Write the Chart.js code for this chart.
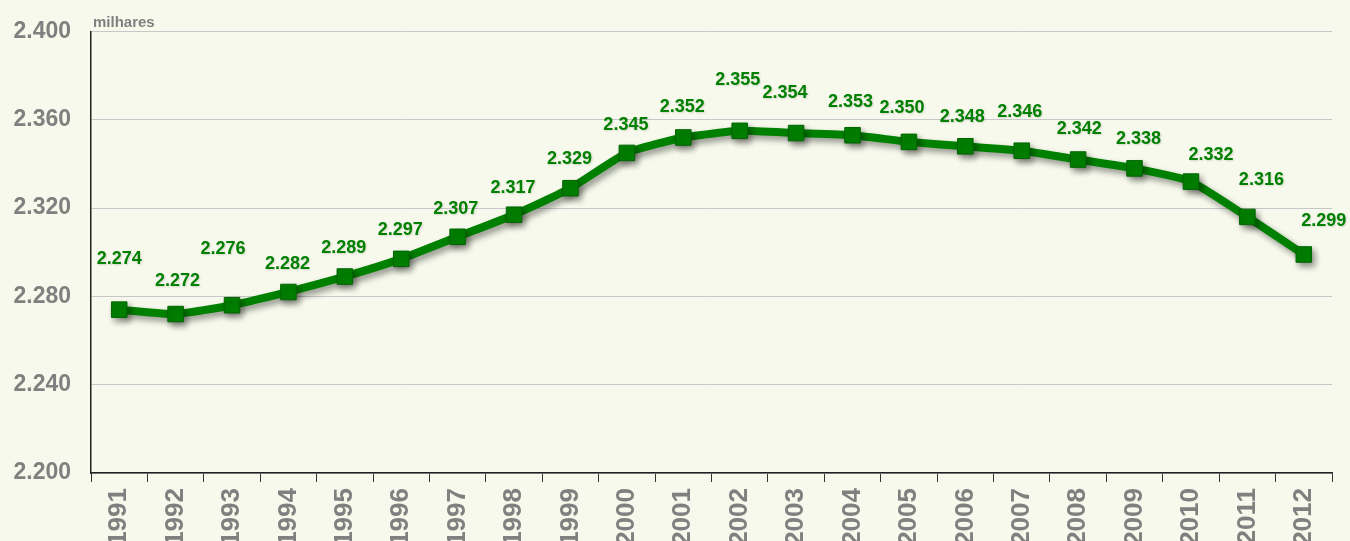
<html>
<head>
<script src="https://cdn.jsdelivr.net/npm/chart.js@4/dist/chart.umd.min.js"></script>
<style>
  body { margin: 0; background: #f6f9eb; }
  #wrap { width: 1350px; height: 541px; }
</style>
</head>
<body>
<div id="wrap"><canvas id="myChart"></canvas></div>
<script>
  // valores em milhares
  var years = ['1991','1992','1993','1994','1995','1996','1997','1998','1999','2000','2001',
               '2002','2003','2004','2005','2006','2007','2008','2009','2010','2011','2012'];
  var values = [2274, 2272, 2276, 2282, 2289, 2297, 2307, 2317, 2329, 2345, 2352,
                2355, 2354, 2353, 2350, 2348, 2346, 2342, 2338, 2332, 2316, 2299];
  var yTicks = [2200, 2240, 2280, 2320, 2360, 2400];

  // label placement relative to the point (pixels)
  var labelDx = [0, 2, -9, -1, -1, -1, -2, -1, -1, -1, -1, -2, -11, -2, -7, -3, -2, 1, 4, 20, 14, 20];
  var labelDy = [-51, -33, -56, -28, -29, -29, -28, -27, -29, -28, -30, -51, -40, -33, -34, -29, -39, -31, -29, -27, -37, -33];

  var green = '#008000';
  var grey = '#808080';
  var family = '"Liberation Sans", Arial, sans-serif';

  var fmt = function (v) { return (v / 1000).toFixed(3); };

  var shadowPlugin = {
    id: 'shadow',
    beforeDatasetDraw: function (chart) {
      var c = chart.ctx;
      c.save();
      c.shadowColor = 'rgba(0,0,0,0.4)';
      c.shadowBlur = 6;
      c.shadowOffsetX = 3;
      c.shadowOffsetY = 4;
    },
    afterDatasetDraw: function (chart) {
      chart.ctx.restore();
    }
  };

  var labelsPlugin = {
    id: 'labels',
    afterDatasetsDraw: function (chart) {
      var c = chart.ctx;
      var meta = chart.getDatasetMeta(0);
      c.save();
      c.font = 'bold 18px ' + family;
      c.fillStyle = green;
      c.textAlign = 'center';
      c.textBaseline = 'middle';
      c.shadowColor = 'rgba(0,0,0,0.15)';
      c.shadowBlur = 2;
      c.shadowOffsetX = 1;
      c.shadowOffsetY = 1;
      meta.data.forEach(function (pt, i) {
        c.fillText(fmt(values[i]), pt.x + labelDx[i], pt.y + labelDy[i]);
      });
      // unidade
      c.shadowColor = 'transparent';
      c.font = 'bold 15px ' + family;
      c.fillStyle = grey;
      c.textAlign = 'left';
      c.textBaseline = 'alphabetic';
      c.fillText('milhares', chart.chartArea.left + 2, chart.chartArea.top - 5);
      c.restore();
    }
  };

  var ctx = document.getElementById('myChart').getContext('2d');
  var myChart = new Chart(ctx, {
    type: 'line',
    data: {
      labels: years,
      datasets: [{
        data: values,
        borderColor: green,
        borderWidth: 8,
        backgroundColor: green,
        pointStyle: 'rect',
        pointRadius: 11,
        pointHoverRadius: 11,
        pointBackgroundColor: green,
        pointBorderColor: '#006400',
        pointBorderWidth: 1,
        tension: 0.15
      }]
    },
    plugins: [shadowPlugin, labelsPlugin],
    options: {
      responsive: true,
      maintainAspectRatio: false,
      animation: false,
      layout: { padding: { top: 20, right: 18, left: 0, bottom: 0 } },
      plugins: { legend: { display: false }, tooltip: { enabled: false } },
      scales: {
        x: {
          offset: true,
          grid: { offset: true, drawOnChartArea: false, drawTicks: true, tickLength: 9, color: '#333' },
          border: { color: '#222', width: 1.5 },
          ticks: {
            color: grey,
            font: { family: family, size: 26, weight: 'bold' },
            maxRotation: 90, minRotation: 90, padding: 6,
            autoSkip: false
          },
          afterFit: function (s) { s.height = 68; }
        },
        y: {
          min: 2200, max: 2400,
          afterBuildTicks: function (s) { s.ticks = yTicks.map(function (v) { return { value: v }; }); },
          grid: { color: '#c8c8c8', lineWidth: 1, drawTicks: false },
          border: { color: '#222', width: 1.5 },
          ticks: {
            color: grey,
            padding: 20,
            font: { family: family, size: 23, weight: 'bold', lineHeight: 1 },
            callback: function (v) { return fmt(v); }
          },
          afterFit: function (s) { s.width = 91; }
        }
      }
    }
  });
</script>
</body>
</html>
